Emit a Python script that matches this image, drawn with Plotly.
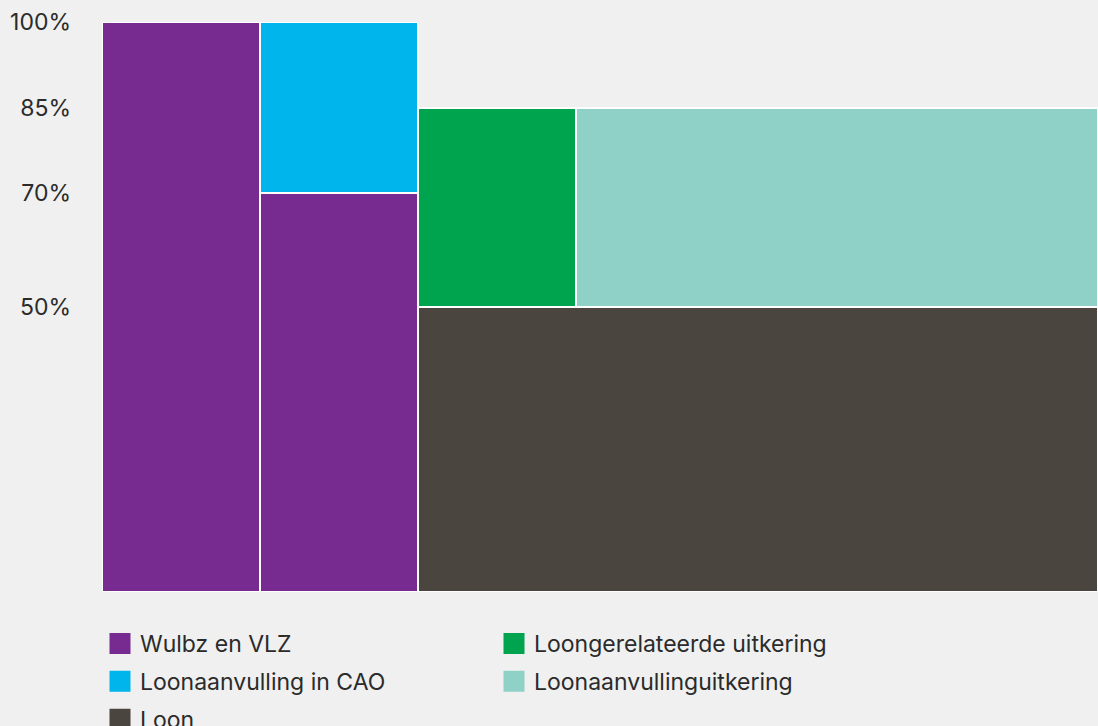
import plotly.graph_objects as go

# Data
periods = ["Jaar 1", "Jaar 2", "Jaar 3", "Jaar 4+"]
period_width = [1, 1, 1, 3.3]
wulbz = [100, 70, None, None]
cao = [None, 30, None, None]
loon = [None, None, 50, 50]
loongerelateerde = [None, None, 35, None]
loonaanvullinguitkering = [None, None, None, 35]
y_ticks = [50, 70, 85, 100]
y_ticktext = ["50%", "70%", "85%", "100%"]

colors = {
    "Wulbz en VLZ": "#772a8f",
    "Loonaanvulling in CAO": "#00b4ec",
    "Loon": "#4a453f",
    "Loongerelateerde uitkering": "#00a44f",
    "Loonaanvullinguitkering": "#8fd1c6",
}

starts = []
acc = 0
for w in period_width:
    starts.append(acc)
    acc += w
total = acc

BG = "#eff0ef"
FONT = "Inter"

# stack order (bottom to top); compute bases per period
series = [
    ("Wulbz en VLZ", wulbz),
    ("Loon", loon),
    ("Loonaanvulling in CAO", cao),
    ("Loongerelateerde uitkering", loongerelateerde),
    ("Loonaanvullinguitkering", loonaanvullinguitkering),
]
running = [0.0] * len(periods)

fig = go.Figure()
for name, vals in series:
    # merge consecutive periods with identical value and base into one block
    xs, ws, ys, bs = [], [], [], []
    i = 0
    while i < len(vals):
        v = vals[i]
        if v is None:
            i += 1
            continue
        b = running[i]
        j = i
        while j + 1 < len(vals) and vals[j + 1] == v and running[j + 1] == b:
            j += 1
        x0 = starts[i]
        x1 = starts[j] + period_width[j]
        xs.append((x0 + x1) / 2)
        ws.append(x1 - x0)
        ys.append(v)
        bs.append(b)
        for k in range(i, j + 1):
            running[k] += v
        i = j + 1
    fig.add_trace(go.Bar(
        x=xs, y=ys, base=bs, width=ws, name=name,
        marker=dict(color=colors[name], line=dict(color="white", width=2)),
        showlegend=False, hoverinfo="name+y",
    ))

# legend entries
legend_entries = [
    ("Wulbz en VLZ", "legend"),
    ("Loonaanvulling in CAO", "legend"),
    ("Loon", "legend"),
    ("Loongerelateerde uitkering", "legend2"),
    ("Loonaanvullinguitkering", "legend2"),
]
for name, lg in legend_entries:
    fig.add_trace(go.Scatter(
        x=[None], y=[None], mode="markers", name=name, legend=lg,
        legendgroup=name,
        marker=dict(symbol="square", size=16, color=colors[name],
                    line=dict(color=colors[name], width=5)),
        showlegend=True,
    ))

legend_common = dict(
    orientation="v", xref="container", yref="container", yanchor="top",
    xanchor="left", bgcolor="rgba(0,0,0,0)", tracegroupgap=5,
    font=dict(family=FONT, size=23, color="#2b2b2b"), itemsizing="trace",
)

fig.update_layout(
    barmode="overlay",
    bargap=0,
    width=1098, height=726,
    margin=dict(l=102, r=0, t=22, b=134, autoexpand=False),
    paper_bgcolor=BG, plot_bgcolor=BG,
    font=dict(family=FONT, size=23, color="#2b2b2b"),
    xaxis=dict(type="linear", range=[0, total], visible=False, fixedrange=True),
    yaxis=dict(range=[0, 100], tickvals=y_ticks, ticktext=y_ticktext,
               showgrid=False, zeroline=False, showline=False,
               ticks="", ticklabelstandoff=30, fixedrange=True,
               tickfont=dict(family=FONT, size=23, color="#2b2b2b")),
    legend=dict(x=100 / 1098, y=1 - 622 / 726, **legend_common),
    legend2=dict(x=494 / 1098, y=1 - 622 / 726, **legend_common),
)

fig.write_html("out.html", config={"displayModeBar": False},
               post_script="document.body.style.margin='0';")
